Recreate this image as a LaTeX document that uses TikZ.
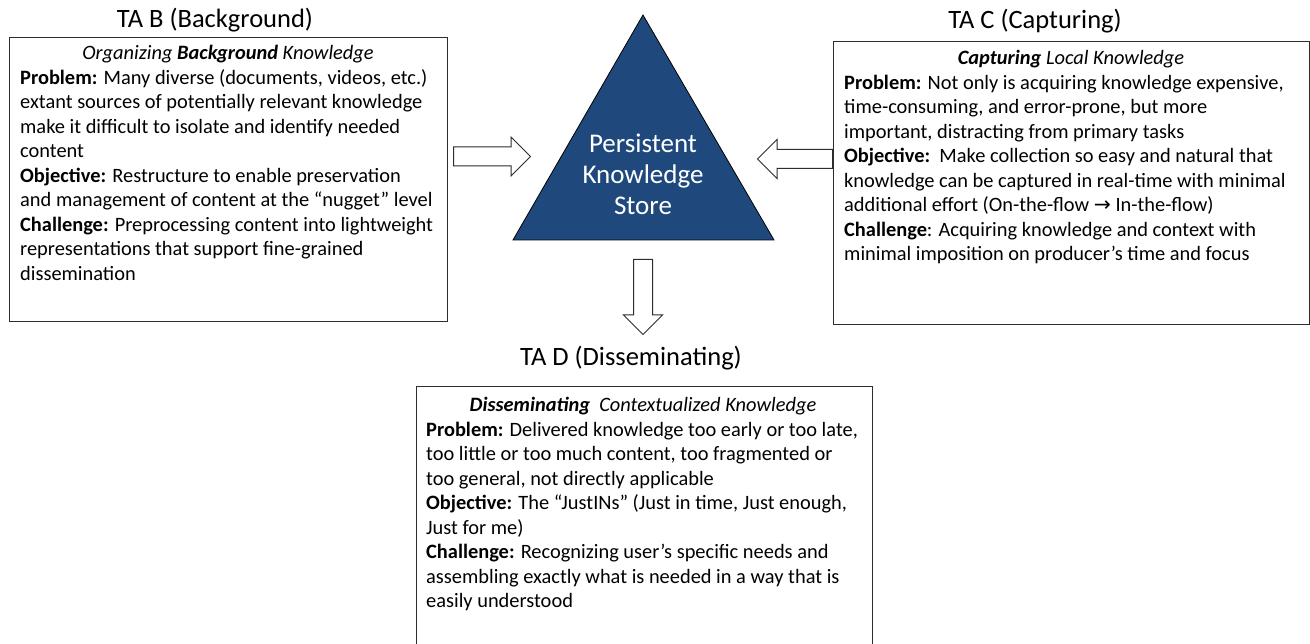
\documentclass[tikz,border=0pt]{standalone}
\usepackage{fontspec}
\setmainfont{Carlito}
\newfontfamily\symfont{DejaVu Sans}
\usetikzlibrary{shapes.arrows}
\definecolor{storeblue}{RGB}{31,73,125}
\definecolor{edgegray}{RGB}{45,45,45}
\tikzset{
  panel/.style={draw=edgegray, line width=1.2pt, fill=white, inner sep=0pt, anchor=north west},
  blockarrow/.style={single arrow, draw=edgegray, line width=1pt, fill=white,
    inner sep=9pt, text height=0pt, text depth=0pt, text width=0pt,
    single arrow head extend=10pt, single arrow tip angle=90, anchor=tail},
  title/.style={anchor=base, inner sep=0pt, font=\fontsize{26.5}{31}\selectfont},
  heading/.style={anchor=base, inner sep=0pt, font=\fontsize{20.4}{24.5}\selectfont\itshape},
  body/.style={anchor=base west, inner sep=0pt, font=\fontsize{20.4}{24.5}\selectfont},
}
\newcommand{\bodytext}[1]{\parbox[t]{470pt}{#1}}
\begin{document}
\begin{tikzpicture}[x=1pt,y=-1pt]
\useasboundingbox (0,0) rectangle (1310,644);
\clip (0,0) rectangle (1310,644);
\fill[white] (0,0) rectangle (1310,644);

% knowledge store
\draw[fill=storeblue, draw=black, line width=0.8pt] (643,15) -- (513,240) -- (774,240) -- cycle;
\node[inner sep=0pt, align=center, text=white, font=\fontsize{27}{31}\selectfont] (store) at (643,174)
  {Persistent\\Knowledge\\Store};

% panels
\node[panel, minimum width=438pt, minimum height=284pt] (boxB) at (9,37) {};
\node[panel, minimum width=476pt, minimum height=283pt] (boxC) at (833,41) {};
\node[panel, minimum width=456pt, minimum height=280pt] (boxD) at (416,386) {};

% titles
\node[title] (titleB) at (215,28) {TA B (Background)};
\node[title] (titleC) at (1035,29) {TA C (Capturing)};
\node[title] (titleD) at (631,366) {TA D (Disseminating)};

% block arrows
\node[blockarrow, minimum height=77pt, minimum width=38pt] (arrB) at (453,156.5) {};
\node[blockarrow, shape border rotate=180, minimum height=75pt, minimum width=37pt] (arrC) at (boxC.west |- 0,159) {};
\node[blockarrow, shape border rotate=270, minimum height=75pt, minimum width=39pt] (arrD) at (643,259) {};

% panel B
\node[heading] (headB) at (228,60) {Organizing \textbf{Background} Knowledge};
\node[body] (txtB) at (20,84.5) {\bodytext{%
\textbf{Problem:} Many diverse (documents, videos, etc.)\\
extant sources of potentially relevant knowledge\\
make it difficult to isolate and identify needed\\
content\\
\textbf{Objective:} Restructure to enable preservation\\
and management of content at the “nugget” level\\
\textbf{Challenge:} Preprocessing content into lightweight\\
representations that support fine-grained\\
dissemination}};

% panel C
\node[heading] (headC) at (1071,65) {\textbf{Capturing} Local Knowledge};
\node[body] (txtC) at (844,89.5) {\bodytext{%
\textbf{Problem:} Not only is acquiring knowledge expensive,\\
time-consuming, and error-prone, but more\\
important, distracting from primary tasks\\
\textbf{Objective:}\ \ Make collection so easy and natural that\\
knowledge can be captured in real-time with minimal\\
additional effort (On-the-flow {\symfont→} In-the-flow)\\
\textbf{Challenge}: Acquiring knowledge and context with\\
minimal imposition on producer’s time and focus}};

% panel D
\node[heading] (headD) at (643,412) {\textbf{Disseminating}\ \ Contextualized Knowledge};
\node[body] (txtD) at (426,436.5) {\bodytext{%
\textbf{Problem:} Delivered knowledge too early or too late,\\
too little or too much content, too fragmented or\\
too general, not directly applicable\\
\textbf{Objective:} The “JustINs” (Just in time, Just enough,\\
Just for me)\\
\textbf{Challenge:} Recognizing user’s specific needs and\\
assembling exactly what is needed in a way that is\\
easily understood}};
\end{tikzpicture}
\end{document}
